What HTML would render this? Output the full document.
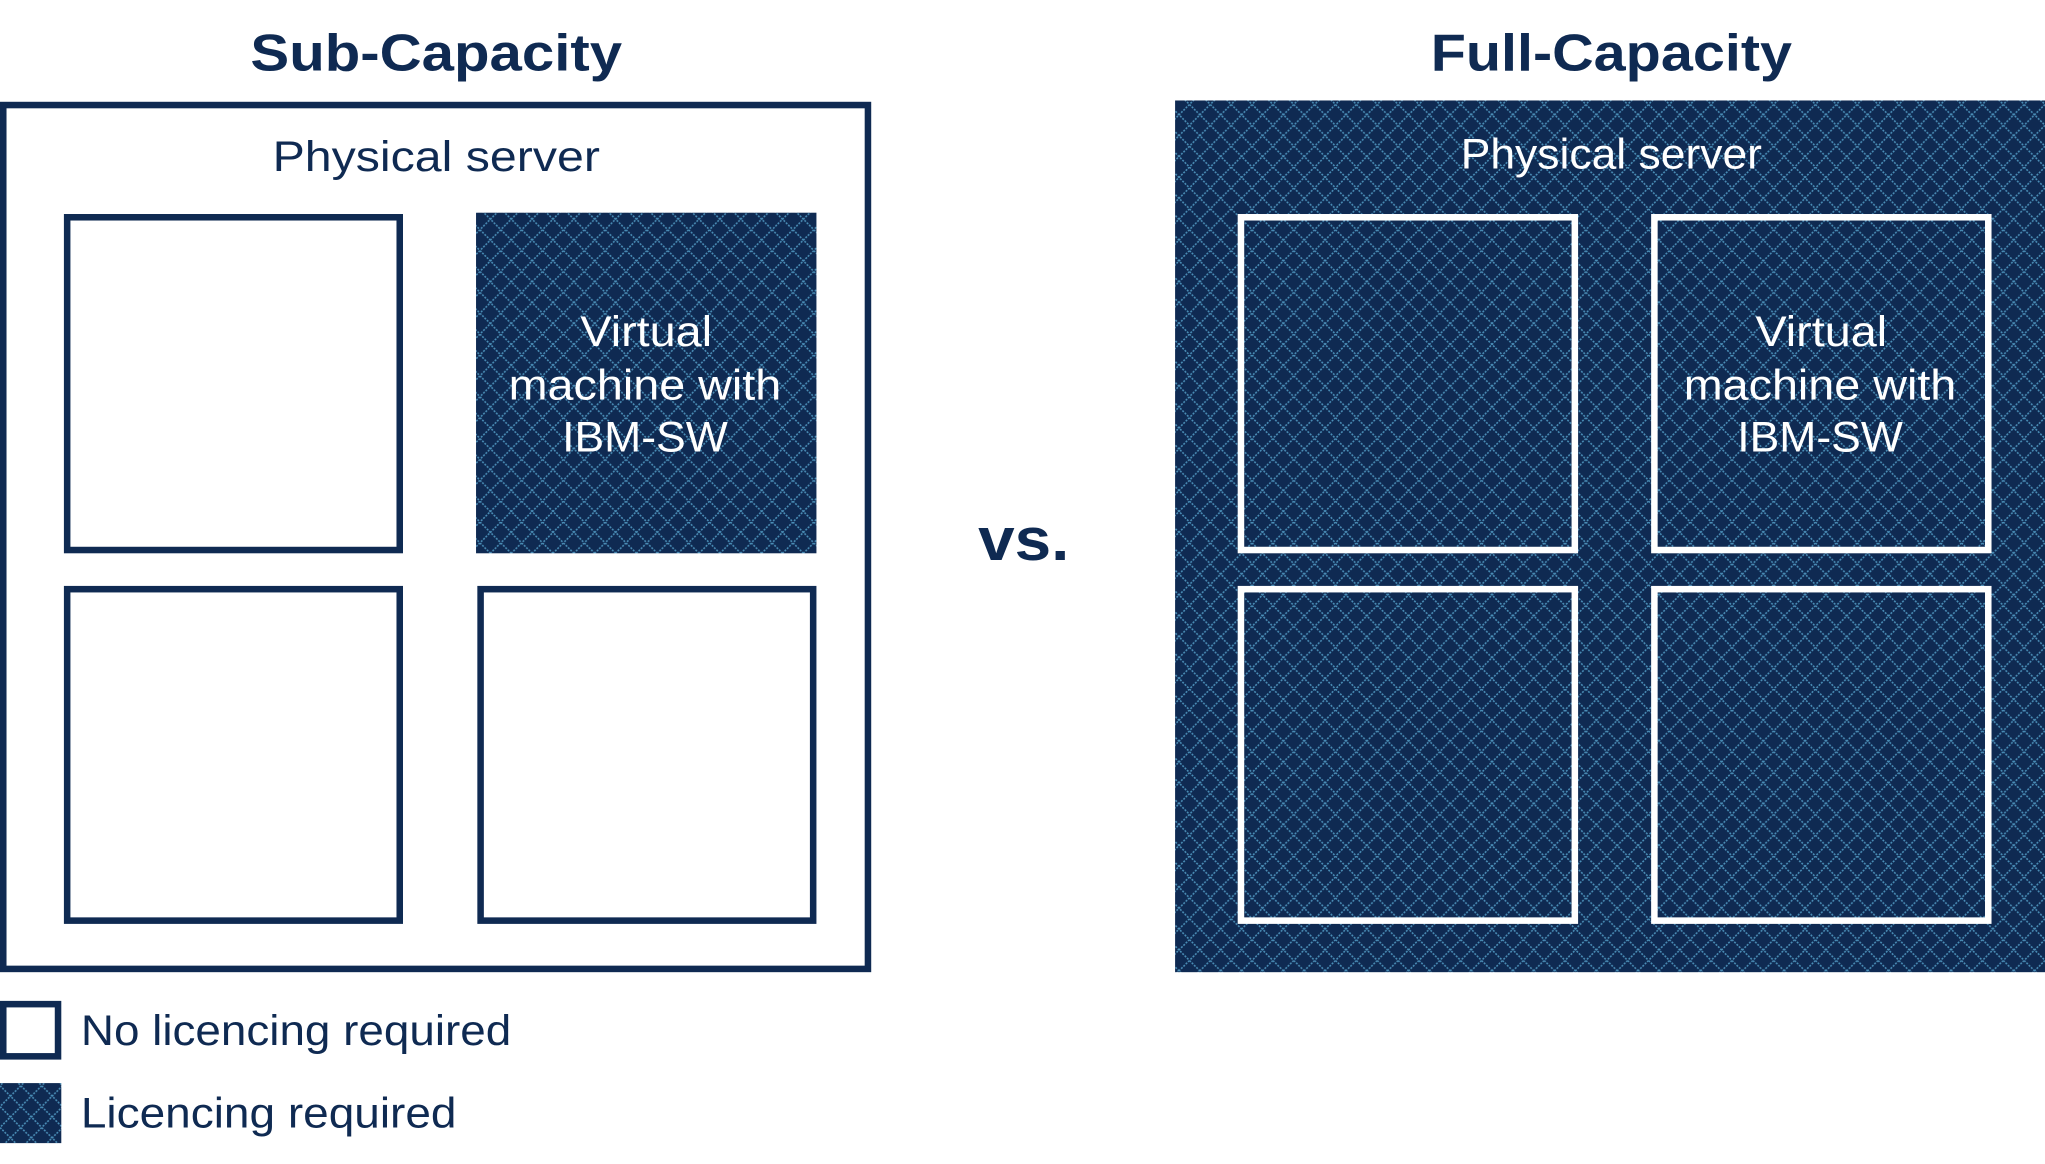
<!DOCTYPE html>
<html><head><meta charset="utf-8"><style>
html,body{margin:0;padding:0;background:#fff;}
svg{display:block;}
text{font-family:"Liberation Sans",sans-serif;}
</style></head><body>
<svg width="2045" height="1164" viewBox="0 0 1568 892" preserveAspectRatio="none" xmlns="http://www.w3.org/2000/svg">
<defs>
<pattern id="p" width="16" height="16" patternUnits="userSpaceOnUse">
<rect width="16" height="16" fill="#0f2a52"/>
<path d="M0 0L16 16M16 0L0 16" stroke="#4b8fb8" stroke-width="1.2" stroke-dasharray="1.5 1"/>
</pattern>
</defs>
<text x="192" y="54" font-size="40" font-weight="bold" fill="#0f2a52" textLength="285" lengthAdjust="spacingAndGlyphs">Sub-Capacity</text>
<text x="1097" y="54" font-size="40" font-weight="bold" fill="#0f2a52" textLength="277" lengthAdjust="spacingAndGlyphs">Full-Capacity</text>
<rect x="2.5" y="80.5" width="663" height="662" fill="#fff" stroke="#0f2a52" stroke-width="5"/>
<text x="209" y="131" font-size="33" fill="#0f2a52" textLength="251" lengthAdjust="spacingAndGlyphs">Physical server</text>
<rect x="51.5" y="166.5" width="255" height="255" fill="#fff" stroke="#0f2a52" stroke-width="5"/>
<rect x="365" y="163" width="261" height="261" fill="url(#p)"/>
<rect x="51.5" y="451.5" width="255" height="254" fill="#fff" stroke="#0f2a52" stroke-width="5"/>
<rect x="368.5" y="451.5" width="255" height="254" fill="#fff" stroke="#0f2a52" stroke-width="5"/>
<g font-size="33" fill="#fff">
<text x="445" y="265" textLength="101" lengthAdjust="spacingAndGlyphs">Virtual</text>
<text x="390" y="306" textLength="209" lengthAdjust="spacingAndGlyphs">machine with</text>
<text x="431" y="346" textLength="127" lengthAdjust="spacingAndGlyphs">IBM-SW</text>
</g>
<text x="750" y="429" font-size="46" font-weight="bold" fill="#0f2a52" textLength="70" lengthAdjust="spacingAndGlyphs">vs.</text>
<rect x="901" y="77" width="667" height="668" fill="url(#p)"/>
<text x="1120" y="129" font-size="33" fill="#fff" textLength="231" lengthAdjust="spacingAndGlyphs">Physical server</text>
<g fill="none" stroke="#fff" stroke-width="5">
<rect x="951.5" y="166.5" width="256" height="255"/>
<rect x="1268.5" y="166.5" width="256" height="255"/>
<rect x="951.5" y="451.5" width="256" height="254"/>
<rect x="1268.5" y="451.5" width="256" height="254"/>
</g>
<g font-size="33" fill="#fff">
<text x="1346" y="265" textLength="101" lengthAdjust="spacingAndGlyphs">Virtual</text>
<text x="1291" y="306" textLength="209" lengthAdjust="spacingAndGlyphs">machine with</text>
<text x="1332" y="346" textLength="127" lengthAdjust="spacingAndGlyphs">IBM-SW</text>
</g>
<rect x="2.5" y="769.5" width="42" height="40" fill="#fff" stroke="#0f2a52" stroke-width="5"/>
<text x="62" y="801" font-size="33" fill="#0f2a52" textLength="330" lengthAdjust="spacingAndGlyphs">No licencing required</text>
<rect x="0" y="830" width="47" height="46" fill="url(#p)"/>
<text x="62" y="864" font-size="33" fill="#0f2a52" textLength="288" lengthAdjust="spacingAndGlyphs">Licencing required</text>
</svg>
</body></html>
